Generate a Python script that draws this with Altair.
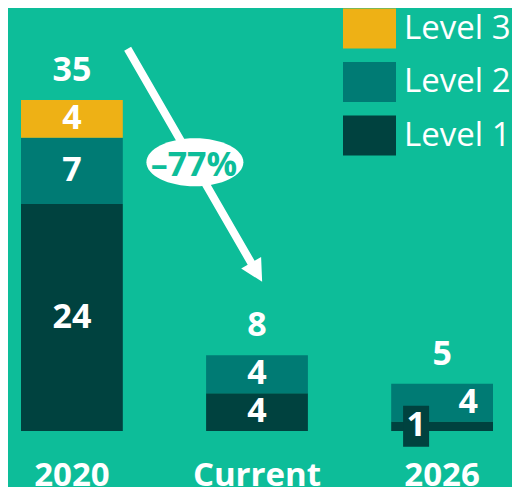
import altair as alt
import pandas as pd

# ---- data ----
categories = ["2020", "Current", "2026"]
level1 = [24, 4, 1]
level2 = [7, 4, 4]
level3 = [4, 0, 0]
levels = ["Level 3", "Level 2", "Level 1"]
level_colors = ["#EEB115", "#007B74", "#00423F"]
change_label = "–77%"
badge_cat = "2020"
badge_value = 28.2

BG = "#0DBD99"
FONT = "Open Sans"

rows = []
for i, c in enumerate(categories):
    for lvl, vals, order in (("Level 1", level1, 1), ("Level 2", level2, 2), ("Level 3", level3, 3)):
        if vals[i] > 0:
            rows.append({"cat": c, "level": lvl, "value": vals[i], "ord": order})
df = pd.DataFrame(rows)
totals = pd.DataFrame({"cat": categories,
                       "total": [a + b + c for a, b, c in zip(level1, level2, level3)]})
badge_df = pd.DataFrame([{"cat": badge_cat, "y": badge_value, "label": change_label}])

xscale = alt.Scale(domain=categories, range=[13, 485], paddingInner=0.45, paddingOuter=0)
yscale = alt.Scale(domain=[0, 35], range=[423, 92], nice=False, zero=True)

X = alt.X("cat:N", scale=xscale, axis=None)

bars = alt.Chart(df).mark_bar().encode(
    x=X,
    y=alt.Y("value:Q", stack="zero", scale=yscale, axis=None),
    color=alt.Color(
        "level:N",
        scale=alt.Scale(domain=levels, range=level_colors),
        legend=alt.Legend(
            orient="none", legendX=335, legendY=-6, title=None,
            symbolType="M-1,-0.755H1V0.755H-1Z", symbolSize=2809,
            symbolStrokeWidth=0, symbolOpacity=1,
            labelFontSize=33, labelColor="white", labelFont=FONT,
            labelOffset=8, labelLimit=300, rowPadding=6.5,
            padding=0, offset=0,
        ),
    ),
    order=alt.Order("ord:Q", sort="ascending"),
)

seg = alt.Chart(df).transform_stack(
    stack="value", groupby=["cat"], sort=[alt.SortField("ord", "ascending")], as_=["y0", "y1"]
).transform_calculate(mid="(datum.y0 + datum.y1) / 2")

txt = dict(font=FONT, fontSize=34, fontWeight="bold", color="white", baseline="middle", align="center")
YM = alt.Y("mid:Q", scale=yscale, axis=None)

seg_main = seg.transform_filter("datum.cat != '2026'").mark_text(**txt).encode(
    x=X, y=YM, text="value:Q")
seg_l2 = seg.transform_filter("datum.cat == '2026' && datum.level == 'Level 2'").mark_text(dx=26, **txt).encode(
    x=X, y=YM, text="value:Q")
seg_l1_box = seg.transform_filter("datum.cat == '2026' && datum.level == 'Level 1'").mark_point(
    shape="M-1,-1.577H1V1.577H-1Z", size=676, filled=True, color=level_colors[2],
    opacity=1, strokeWidth=0, xOffset=-26).encode(x=X, y=YM)
seg_l1 = seg.transform_filter("datum.cat == '2026' && datum.level == 'Level 1'").mark_text(dx=-26, **txt).encode(
    x=X, y=YM, text="value:Q")

tot = alt.Chart(totals).mark_text(dy=-29, **txt).encode(
    x=X, y=alt.Y("total:Q", scale=yscale, axis=None), text="total:Q")

xlab_style = dict(txt, fontSize=33)
xlab = alt.Chart(totals).transform_calculate(base="0").mark_text(dy=45, **xlab_style).encode(
    x=X, y=alt.Y("base:Q", scale=yscale, axis=None), text="cat:N")

YB = alt.Y("y:Q", scale=yscale, axis=None)
arrow = alt.Chart(badge_df).mark_point(
    shape="M0,-1L0.0855,-0.8364L0.0297,-0.8364L0.0297,1L-0.0297,1L-0.0297,-0.8364L-0.0855,-0.8364Z",
    size=72361, filled=True, color="white", opacity=1, strokeWidth=0,
    angle=150, xOffset=123, yOffset=1).encode(x=X, y=YB)

badge = alt.Chart(badge_df).mark_point(
    shape="M-1,0A1,0.495,0,1,1,1,0A1,0.495,0,1,1,-1,0Z", size=9409, filled=True,
    color="white", opacity=1, strokeWidth=0, xOffset=123, yOffset=-2).encode(x=X, y=YB)
badge_txt = alt.Chart(badge_df).mark_text(
    font=FONT, fontSize=34, fontWeight="bold", color=BG, baseline="middle", align="center",
    dx=122, dy=2).encode(x=X, y=YB, text="label:N")

page_css = "body{background:#0DBD99}"

chart = alt.layer(
    bars, seg_main, seg_l2, seg_l1_box, seg_l1, tot, xlab, arrow, badge, badge_txt
).properties(
    width=504, height=479, padding=0,
    autosize=alt.AutoSizeParams(type="none"),
    background=BG,
    usermeta={"embedOptions": {"defaultStyle": page_css}},
).configure_view(stroke=None)

chart.save("out.html", embed_options={"renderer": "svg", "actions": False})
